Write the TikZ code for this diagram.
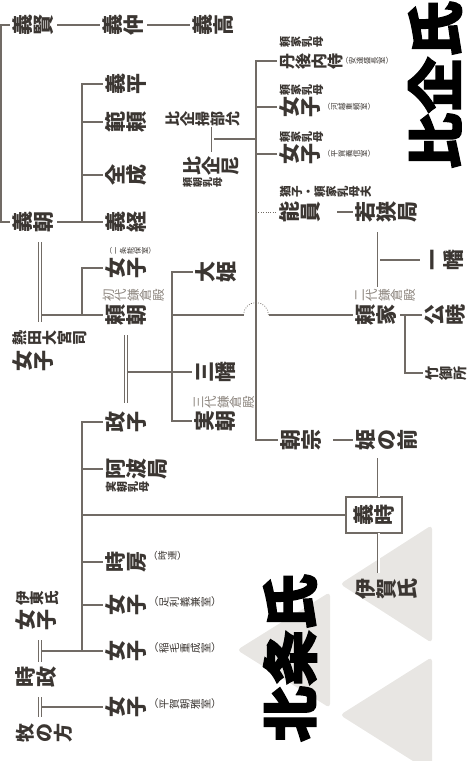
\documentclass[tikz,border=0pt]{standalone}
\usepackage{fontspec}
\usepackage{graphicx}
\newfontfamily\jh{Noto Sans CJK JP}
\newfontfamily\jt[FakeBold=2.5]{Noto Sans CJK JP}
\makeatletter
\newcommand\rtchar[1]{\rotatebox[origin=c]{90}{\makebox[1em]{\rule[-0.12em]{0pt}{1em}#1}}}
\def\rt#1{\rt@loop#1\@nil}
\def\rt@loop#1{\ifx#1\@nil\else\rtchar{#1}\expandafter\rt@loop\fi}
\makeatother
\definecolor{txt}{HTML}{3B3632}
\definecolor{lnc}{HTML}{716B65}
\definecolor{lbl}{HTML}{8C857E}
\definecolor{tri}{HTML}{E8E6E3}
\tikzset{
  nm/.style={font=\jh\bfseries\fontsize{21}{21}\selectfont, text=txt, inner sep=0pt, outer sep=2.5pt, anchor=west},
  sm/.style={font=\jh\bfseries\fontsize{#1}{#1}\selectfont, text=txt, inner sep=0pt, outer sep=2.5pt, anchor=west},
  gr/.style={font=\jh\fontsize{12.5}{12.5}\selectfont, text=lbl, inner sep=0pt, anchor=west},
  pr/.style={font=\jh\fontsize{#1}{#1}\selectfont, text=txt, inner sep=0pt, anchor=west},
  ttl/.style={font=\jt\bfseries\fontsize{56}{56}\selectfont, text=black, rotate=90, inner sep=0pt},
  lnk/.style={draw=lnc, line width=1.1pt},
  dbl/.style={draw=lnc, double=white, double distance=2pt, line width=0.8pt},
  dots/.style={draw=lnc, line width=0.8pt, dash pattern=on 0.8pt off 1.6pt},
  tribox/.style={fill=tri, rounded corners=4pt}
}
\begin{document}
\begin{tikzpicture}[x=1pt,y=-1pt]
\useasboundingbox (0,0) rectangle (467,761);
% background triangles
\fill[tribox] (340,584) -- (432,525) -- (432,643) -- cycle;
\fill[tribox] (237,650) -- (330,592) -- (330,708) -- cycle;
\fill[tribox] (340,715) -- (432,657) -- (432,773) -- cycle;
% titles
\node[ttl] (hkt) at (435,85) {比企氏};
\node[ttl] (hjt) at (290,658) {北条氏};
% left column
\node[nm] (yk) at (10,25) {\rt{義賢}};
\node[nm] (yn) at (100,25) {\rt{義仲}};
\node[nm] (yt) at (190,25) {\rt{義高}};
\node[nm] (yh) at (103,84) {\rt{義平}};
\node[nm] (nr) at (103,122) {\rt{範頼}};
\node[nm] (zj) at (103,175) {\rt{全成}};
\node[nm] (ytm) at (10,222) {\rt{義朝}};
\node[nm] (yts) at (103,222) {\rt{義経}};
\node[pr=7.2] (ichi) at (105,251) {（\rt{一条能保室}）};
\node[nm] (nyo1) at (103,268) {\rt{女子}};
\node[gr] (sho) at (102,295) {\rt{初代鎌倉殿}};
\node[nm] (yrt) at (103,315) {\rt{頼朝}};
\node[sm=15] (atl) at (10,338) {\rt{熱田大宮司}};
\node[nm] (atn) at (10,361) {\rt{女子}};
\node[nm] (msk) at (103,422) {\rt{政子}};
\node[nm] (awa) at (103,469) {\rt{阿波局}};
\node[sm=11] (awal) at (103,487) {\rt{実朝乳母}};
\node[nm] (tkf) at (103,562) {\rt{時房}};
\node[pr=9.6] (tkfp) at (148,556) {（\rt{時連}）};
\node[nm] (nyo2) at (103,605) {\rt{女子}};
\node[pr=10.5] (nyo2p) at (148,602) {（\rt{足利義兼室}）};
\node[nm] (nyo3) at (103,651) {\rt{女子}};
\node[pr=10.5] (nyo3p) at (148,648) {（\rt{稲毛重成室}）};
\node[nm] (nyo4) at (103,707) {\rt{女子}};
\node[pr=10.5] (nyo4p) at (148,704) {（\rt{平賀朝雅室}）};
\node[sm=14.5] (itl) at (13,598) {\rt{伊東氏}};
\node[nm] (itn) at (13,620) {\rt{女子}};
\node[nm] (tkm) at (13,677) {\rt{時政}};
\node[sm=19] (mak) at (13,733) {\rt{牧の方}};
% middle
\node[sm=15] (kam) at (163,119) {\rt{比企掃部允}};
\node[sm=19] (hka) at (180,166) {\rt{比企尼}};
\node[sm=10] (hkal) at (180,182) {\rt{頼朝乳母}};
\node[nm] (ohm) at (193,272) {\rt{大姫}};
\node[nm] (snm) at (192,372) {\rt{三幡}};
\node[gr] (san) at (192,402) {\rt{三代鎌倉殿}};
\node[nm] (snt) at (192,421) {\rt{実朝}};
% right
\node[sm=11] (m1) at (277,42) {\rt{頼家乳母}};
\node[sm=16] (tng) at (277,61) {\rt{丹後内侍}};
\node[pr=7.4] (tngp) at (341,61) {（\rt{安達盛長室}）};
\node[sm=11] (m2) at (277,90) {\rt{頼家乳母}};
\node[nm] (nyo5) at (277,107) {\rt{女子}};
\node[pr=7.4] (nyo5p) at (323,107) {（\rt{河越重頼室}）};
\node[sm=11] (m3) at (277,137) {\rt{頼家乳母}};
\node[nm] (nyo6) at (277,154) {\rt{女子}};
\node[pr=7.4] (nyo6p) at (323,154) {（\rt{平賀義信室}）};
\node[sm=11.5] (ykl) at (277,192) {\rt{猶子・頼家乳母夫}};
\node[nm] (yoi) at (277,212) {\rt{能員}};
\node[nm] (wks) at (353,212) {\rt{若狭局}};
\node[nm] (ipm) at (420,260) {\rt{一幡}};
\node[gr] (nid) at (353,295) {\rt{二代鎌倉殿}};
\node[nm] (yri) at (353,315) {\rt{頼家}};
\node[nm] (kgy) at (422,315) {\rt{公暁}};
\node[sm=14] (tgs) at (423,373) {\rt{竹御所}};
\node[nm] (tms) at (278,440) {\rt{朝宗}};
\node[nm] (hmn) at (353,440) {\rt{姫の前}};
\node[nm, anchor=center, draw=lnc, line width=1.1pt, fill=white, minimum width=56pt, minimum height=36pt, outer sep=0pt] (ytk) at (374,515) {\rt{義時}};
\node[nm] (iga) at (353,589) {\rt{伊賀氏}};
% coordinates
\coordinate (a0) at (1,25);
\coordinate (a1) at (1,222);
\coordinate (b0) at (82,84);
\coordinate (b1) at (82,222);
\coordinate (c0) at (40,242);
\coordinate (c1) at (40,322);
\coordinate (c2) at (41.5,315);
\coordinate (c3) at (82,315);
\coordinate (e0) at (126,335);
\coordinate (e1) at (126,403);
\coordinate (e2) at (127.5,372);
\coordinate (f1) at (172,421);
\coordinate (f2) at (172,315);
\coordinate (f3) at (243.5,315);
\coordinate (f4) at (268.5,315);
\coordinate (g0) at (212.5,127);
\coordinate (g1) at (212.5,152);
\coordinate (g2) at (214,139);
\coordinate (g3) at (256,139);
\coordinate (g4) at (256,440);
\coordinate (g5) at (256,212);
\coordinate (j0) at (378.5,232);
\coordinate (j1) at (378.5,287);
\coordinate (j2) at (380,260);
\coordinate (j3) at (378.5,458);
\coordinate (j4) at (378.5,573);
\coordinate (k0) at (405,315);
\coordinate (h1) at (82,651);
\coordinate (h2) at (82,515);
\coordinate (i0) at (40,640);
\coordinate (i1) at (40,662);
\coordinate (i2) at (41.5,651);
\coordinate (i3) at (40,697);
\coordinate (i4) at (40,717);
\coordinate (i5) at (41.5,707);
% Minamoto
\draw[lnk] (yk.west) -- (a0) -- (a1) -- (ytm.west);
\draw[lnk] (yk.east) -- (yn.west);
\draw[lnk] (yn.east) -- (yt.west);
\draw[lnk] (ytm.east) -- (yts.west);
\draw[lnk] (yh.west) -- (b0) -- (b1);
\draw[lnk] (nr.west) -- (nr.west -| b0);
\draw[lnk] (zj.west) -- (zj.west -| b0);
\draw[dbl] (c0) -- (c1);
\draw[lnk] (c2) -- (yrt.west);
\draw[lnk] (nyo1.west) -| (c3);
\draw[dbl] (e0) -- (e1);
\draw[lnk] (e2) -- (snm.west);
\draw[lnk] (ohm.west) -| (f1) -- (snt.west);
\draw[lnk] (f2) -- (f3);
\draw[dots] (f3) arc[start angle=180, end angle=360, radius=12.5];
\draw[lnk] (f4) -- (yri.west);
% Hiki
\draw[dbl] (g0) -- (g1);
\draw[lnk] (g2) -- (g3);
\draw[lnk] (tng.west) -| (g4) -- (tms.west);
\draw[lnk] (nyo5.west) -- (nyo5.west -| g3);
\draw[lnk] (nyo6.west) -- (nyo6.west -| g3);
\draw[dots] (g5) -- (yoi.west);
\draw[lnk, shorten <=13pt] (yoi.east) -- (wks.west);
\draw[dbl] (j0) -- (j1);
\draw[lnk] (j2) -- (ipm.west);
\draw[lnk] (yri.east) -- (kgy.west);
\draw[lnk] (k0) |- (tgs.west);
\draw[lnk, shorten <=8pt] (tms.east) -- (hmn.west);
\draw[dbl] (j3) -- (ytk.north -| j3);
\draw[dbl] (ytk.south -| j4) -- (j4);
% Hojo
\draw[lnk] (msk.west) -| (h1);
\draw[lnk] (awa.west) -- (awa.west -| h1);
\draw[lnk] (tkf.west) -- (tkf.west -| h1);
\draw[lnk] (nyo2.west) -- (nyo2.west -| h1);
\draw[lnk] (h2) -- (ytk.west);
\draw[dbl] (i0) -- (i1);
\draw[lnk] (i2) -- (nyo3.west);
\draw[dbl] (i3) -- (i4);
\draw[lnk] (i5) -- (nyo4.west);
\end{tikzpicture}
\end{document}
